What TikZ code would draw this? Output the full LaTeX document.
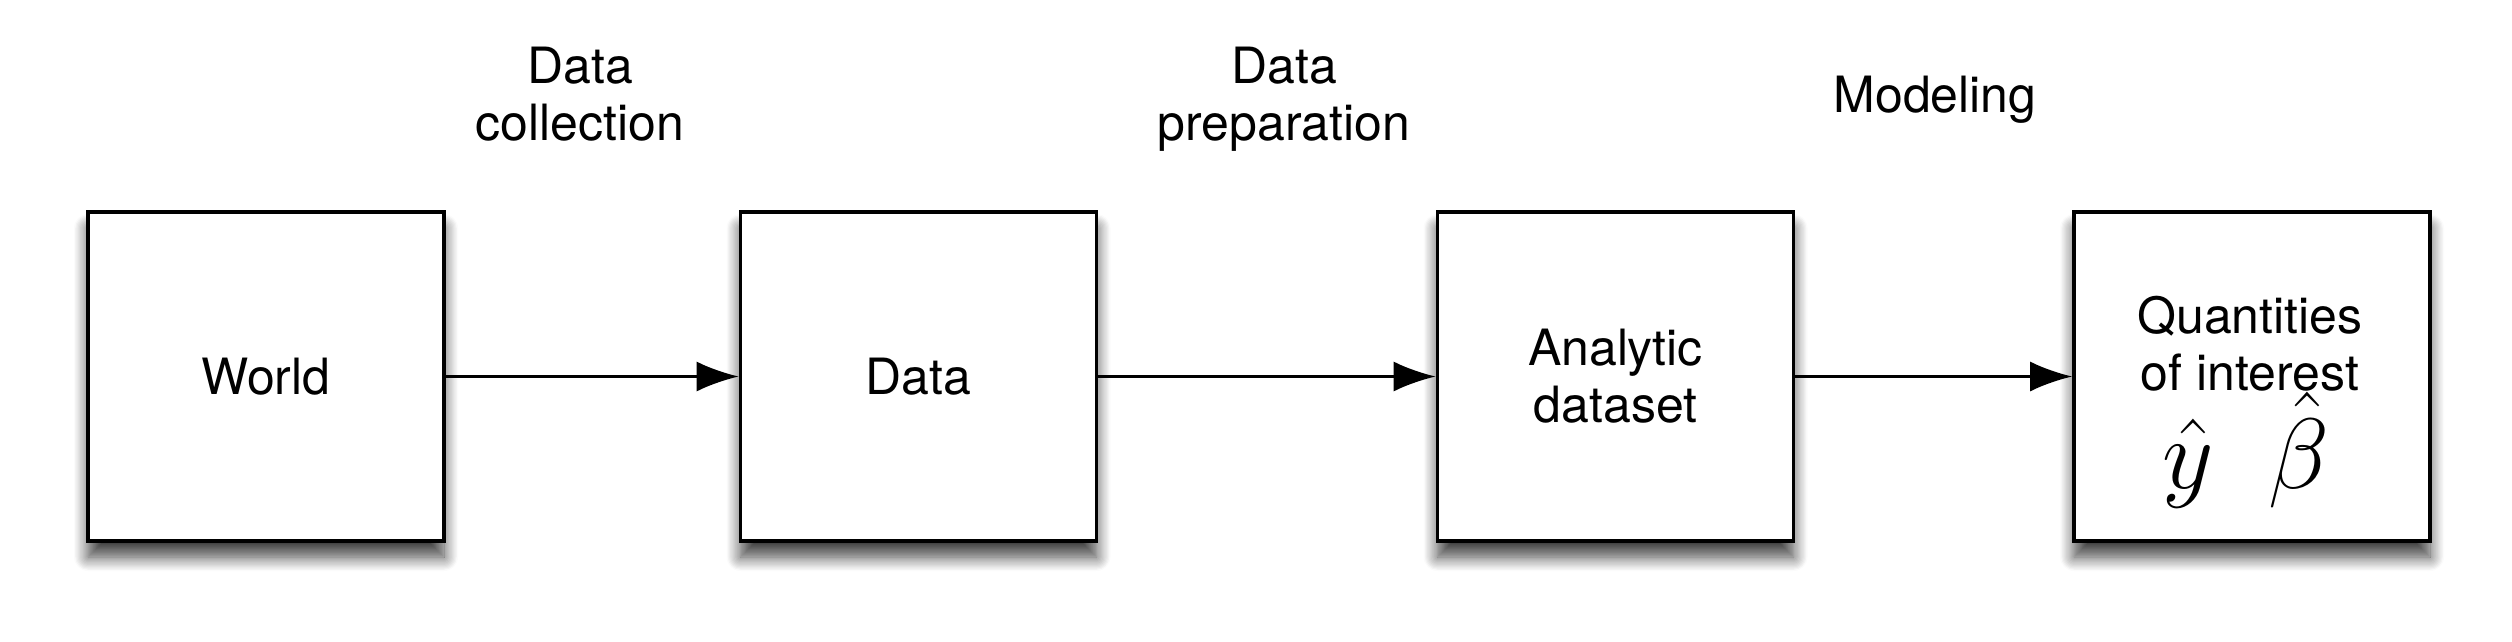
\RequirePackage{fix-cm}
\documentclass[tikz,border=0pt]{standalone}
\usepackage{fontspec}
\setmainfont{TeX Gyre Heros}
\usetikzlibrary{arrows.meta,shadows.blur}
\tikzset{
  box/.style={draw=black, line width=3.6pt, fill=white,
    minimum width=356pt, minimum height=329pt, inner sep=0pt,
    blur shadow={shadow xshift=0pt, shadow yshift=-16pt, shadow blur radius=14pt, shadow blur steps=12, shadow opacity=75},
    font=\fontsize{50}{57}\selectfont, align=center},
  flow/.style={line width=2.6pt, -{Latex[length=42pt,width=30pt]}},
  lbl/.style={font=\fontsize{50}{57}\selectfont, align=center, inner sep=0pt}
}
\begin{document}
\begin{tikzpicture}[x=1pt,y=-1pt]
\useasboundingbox (0,0) rectangle (2512,641);
\node[box] (world) at (266,376.5) {World};
\node[box] (data) at (918.5,376.5) {Data};
\node[box] (analytic) at (1615.5,376.5) {Analytic\\dataset};
\node[box] (qoi) at (2252,376.5) {};
\node[lbl, anchor=base] (qtext) at (2250,390) {Quantities\\of interest};
\node[lbl, anchor=base] (qmath) at (2246,488) {\fontsize{100}{100}\selectfont$\hat{y}\hspace{0.55em}\hat{\beta}$};
\draw[flow] (world) -- (data);
\draw[flow] (data) -- (analytic);
\draw[flow] (analytic) -- (qoi);
\node[lbl, anchor=base] (l1) at (580,140) {Data\\collection};
\node[lbl, anchor=base] (l2) at (1284,140) {Data\\preparation};
\node[lbl, anchor=base] (l3) at (1935,112) {Modeling};
\end{tikzpicture}
\end{document}
